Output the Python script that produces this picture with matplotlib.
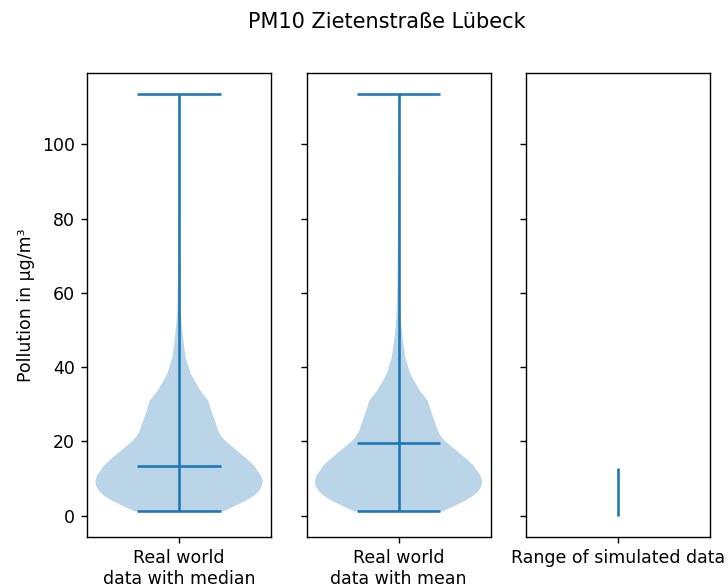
import matplotlib
matplotlib.use("Agg")
import matplotlib.pyplot as plt
import numpy as np

# PM10 values (µg/m³): height -> half width
pm10_coords = [1.16, 2.2, 4.0, 5.4, 6.7, 8.1, 9.4, 10.8, 12.1, 13.5, 14.8, 16.2,
               17.5, 18.8, 20.2, 21.5, 22.9, 25.6, 28.3, 31.0, 33.6, 36.0, 38.1,
               42.6, 47.1, 51.6, 56.1, 65.0, 80.0, 100.0, 113.5]
pm10_density = [43.3, 51.6, 65, 73.3, 78.3, 81, 81.6, 80, 76.6, 73.3, 68.3, 62.3,
                56.6, 51, 45, 41, 38.3, 35, 31.5, 28.5, 21, 16, 11.6,
                6.6, 4.3, 2.6, 1.6, 1.0, 0.5, 0.2, 0.1]
pm10_min = 1.16
pm10_max = 113.5
pm10_median = 13.3
pm10_mean = 19.5

# range of the simulated data
sim_min = 0.0
sim_max = 12.8

labels = ['Real world\ndata with median', 'Real world\ndata with mean', 'Range of simulated data']

stats = [dict(coords=np.array(pm10_coords), vals=np.array(pm10_density),
              mean=pm10_mean, median=pm10_median, min=pm10_min, max=pm10_max)]

fig, (ax1, ax2, ax3) = plt.subplots(1, 3, sharey=True, figsize=(5.824, 4.696), dpi=125)
fig.subplots_adjust(left=0.1195, right=0.9753, top=0.8751, bottom=0.0857, wspace=0.193)

ax1.violin(stats, positions=[1], showmedians=True, showmeans=False, showextrema=True)
ax2.violin(stats, positions=[1], showmedians=False, showmeans=True, showextrema=True)
ax3.vlines(1, sim_min, sim_max)

for ax, lab in zip((ax1, ax2, ax3), labels):
    ax.set_xticks([1])
    ax.set_xticklabels([lab])

ax1.set_ylabel('Pollution in µg/m³')
fig.suptitle('PM10 Zietenstraße Lübeck', x=0.532)

plt.savefig('out.png', dpi=125)
